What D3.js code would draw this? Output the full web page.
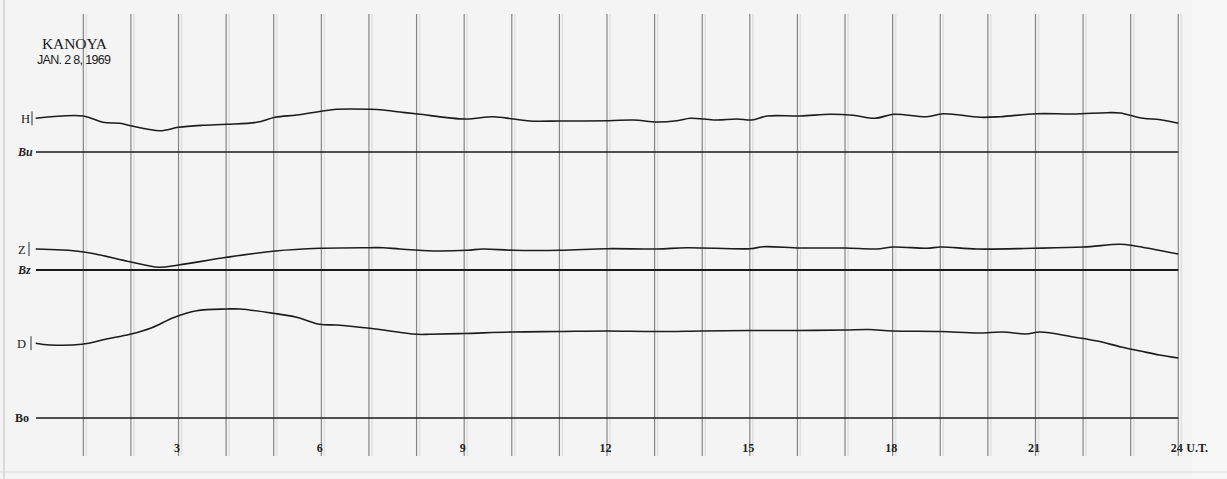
<!DOCTYPE html>
<html><head><meta charset="utf-8">
<script src="https://cdn.jsdelivr.net/npm/d3@7"></script>
<style>html,body{margin:0;padding:0;background:#f4f4f4;}svg{display:block;}</style>
</head><body>
<script>
// ---- data (hours U.T., deflection above each trace's baseline, arbitrary units) ----
const station = "KANOYA";
const dateLabel = "JAN. 2 8, 1969";
const hourTicks = [3, 6, 9, 12, 15, 18, 21, 24];
const tickLabels = ["3", "6", "9", "12", "15", "18", "21", "24"];
const gridHours = d3.range(1, 25);

const hHours = [0,1.0,1.41,1.77,2.02,2.61,3.0,3.51,4.01,4.64,5.03,5.48,6.03,6.32,7.02,7.3,7.65,8.03,9.02,9.61,10.03,10.38,11.03,12.04,12.55,13.05,13.47,13.75,14.04,14.31,14.73,15.04,15.36,16.06,16.69,17.17,17.63,18.02,18.72,19.06,19.84,20.26,21.03,21.79,22.5,22.78,23.26,23.62,24.0];
const hValues = [33.7,36,29.7,28.7,26,21.3,24.7,26.7,27.7,29.7,34.7,37,41,42.7,42.7,42,40,38,33,35.3,33,31,31,31.3,32,30,31.3,33.7,33,32,33,32,36,36,37.7,36.7,33.7,37.7,35.3,38.3,34.7,35.3,38.3,38,39.3,39,33.7,32.3,28.7];

const zHours = [0,0.97,1.98,2.58,3.0,4.01,5.03,5.97,7.02,7.3,7.65,8.35,9.06,9.4,10.03,11.02,12.0,13.05,13.68,15.01,15.29,16.06,17.0,17.66,18.02,18.72,19.01,19.77,20.95,22.0,22.78,23.06,24.0];
const zValues = [21,18.3,8.3,2.7,5,12.7,19,21.7,22.3,22.3,21,19,19.7,21,19.7,19.7,21.3,21,22.3,21.3,23.3,22,22,21,23,21.7,23,21,21.7,23,25.7,24.3,16];

const dHours = [0,0.3,0.97,1.49,1.98,2.44,2.89,3.38,4.01,4.29,4.99,5.48,5.97,6.32,7.02,8.0,8.28,9.0,10.0,11.0,12.0,13.0,14.0,15.0,16.0,17.0,17.5,18.0,19.0,19.8,20.3,20.8,21.1,21.8,22.3,22.8,23.2,23.6,24.0];
const dValues = [74.7,73,73.7,79,83.7,90.3,100.3,107.3,109,109,104.7,100.7,93.7,93,89.7,83.7,83.7,84.5,86,86.5,87,86.5,87,87.5,87.5,88,88.5,87,86.5,85,86,84,86,81,77,71,67,63,60];

const traces = [
  {name: "H", base: "Bu", hours: hHours, values: hValues},
  {name: "Z", base: "Bz", hours: zHours, values: zValues},
  {name: "D", base: "Bo", hours: dHours, values: dValues}
];

// ---- layout ----
const W = 1227, H = 479;
const baselineY = {H: 152, Z: 270, D: 418};
const x = d3.scaleLinear().domain([0, 24]).range([35.7, 1178.3]);

const svg = d3.select("body").append("svg").attr("width", W).attr("height", H);
svg.append("rect").attr("width", W).attr("height", H).attr("fill", "#f4f4f4");
svg.append("rect").attr("x", 1192).attr("width", W - 1192).attr("height", H).attr("fill", "#f7f7f7");
svg.append("line").attr("x1", 4).attr("x2", 4).attr("y1", 0).attr("y2", H).attr("stroke", "#dadada").attr("stroke-width", 2);
svg.append("line").attr("x1", 0).attr("x2", W).attr("y1", 472).attr("y2", 472).attr("stroke", "#e2e2e2").attr("stroke-width", 1.5);

// hour grid lines
const grid = svg.append("g");
grid.selectAll("line.shadow").data(gridHours).join("line").attr("class", "shadow")
  .attr("x1", d => x(d) + 3).attr("x2", d => x(d) + 3).attr("y1", 14).attr("y2", 456)
  .attr("stroke", "#e0e0e0").attr("stroke-width", 1.5);
grid.selectAll("line.main").data(gridHours).join("line").attr("class", "main")
  .attr("x1", d => x(d)).attr("x2", d => x(d)).attr("y1", 14).attr("y2", 456)
  .attr("stroke", "#858585").attr("stroke-width", 1.2);

// hour axis labels
const axis = d3.axisBottom(x).tickValues(hourTicks).tickSize(0)
  .tickFormat((d, i) => tickLabels[i]);
const ax = svg.append("g").attr("transform", "translate(-2,440)").call(axis);
ax.select(".domain").remove();
ax.selectAll("text").attr("font-family", "Liberation Serif, serif").attr("font-weight", "bold")
  .attr("font-size", 12).attr("fill", "#222");
svg.append("text").attr("x", x(24) + 8).attr("y", 452).text("U.T.")
  .attr("font-family", "Liberation Serif, serif").attr("font-weight", "bold").attr("font-size", 12).attr("fill", "#222");

// baselines + traces
const labelX = {H: 21, Z: 18, D: 17};
traces.forEach(t => {
  const by = baselineY[t.name];
  const y = d3.scaleLinear().domain([0, 100]).range([by, by - 100]);
  svg.append("line").attr("x1", 36).attr("x2", x(24)).attr("y1", by).attr("y2", by)
    .attr("stroke", "#1a1a1a").attr("stroke-width", t.name === "Z" ? 1.8 : 1.3);
  const pts = t.hours.map((h, i) => [h, t.values[i]]);
  const line = d3.line().x(d => x(d[0])).y(d => y(d[1])).curve(d3.curveCatmullRom.alpha(0.5));
  svg.append("path").datum(pts).attr("d", line).attr("fill", "none")
    .attr("stroke", "#1c1c1c").attr("stroke-width", 1.6).attr("stroke-linejoin", "round");
  const ty = y(t.values[0]);
  svg.append("text").attr("x", labelX[t.name]).attr("y", ty + 4.5).text(t.name)
    .attr("font-family", "Liberation Serif, serif").attr("font-size", 12.5).attr("fill", "#222");
  const mx = labelX[t.name] + (t.name === "D" ? 14 : 11);
  svg.append("line").attr("x1", mx).attr("x2", mx).attr("y1", ty - 7).attr("y2", ty + 7)
    .attr("stroke", "#333").attr("stroke-width", 1);
  svg.append("text").attr("x", t.name === "D" ? 15 : 18).attr("y", by + 4).text(t.base)
    .attr("font-family", "Liberation Serif, serif").attr("font-weight", "bold").attr("font-style", t.name === "D" ? "normal" : "italic")
    .attr("font-size", 12).attr("fill", "#222");
});

// title
svg.append("text").attr("x", 42).attr("y", 48.5).text(station)
  .attr("font-family", "Liberation Serif, serif").attr("font-size", 15.5).attr("fill", "#1a1a1a").attr("textLength", 65);
svg.append("text").attr("x", 37).attr("y", 63.5).text(dateLabel)
  .attr("font-family", "Liberation Sans Narrow, Liberation Sans, sans-serif").attr("font-size", 12.5).attr("fill", "#1a1a1a").attr("textLength", 74);
</script>
</body></html>
